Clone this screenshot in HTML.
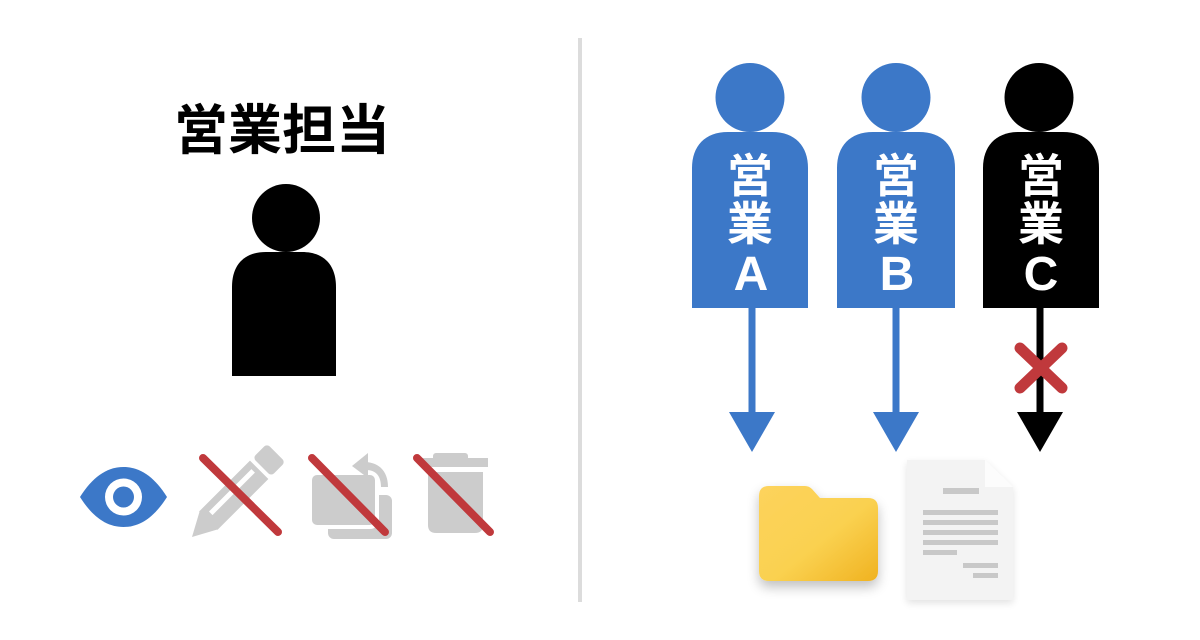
<!DOCTYPE html>
<html>
<head>
<meta charset="utf-8">
<style>
html,body{margin:0;padding:0;background:#fff;}
body{width:1200px;height:640px;overflow:hidden;}
svg{display:block;}
text{font-family:"Liberation Sans","Noto Sans CJK JP",sans-serif;font-weight:bold;}
</style>
</head>
<body>
<svg width="1200" height="640" viewBox="0 0 1200 640" xmlns="http://www.w3.org/2000/svg">
  <defs>
    <linearGradient id="fold" x1="0" y1="0" x2="1" y2="1">
      <stop offset="0" stop-color="#fdd35c"/>
      <stop offset="0.55" stop-color="#fad150"/>
      <stop offset="1" stop-color="#f0b220"/>
    </linearGradient>
    <filter id="sh" x="-30%" y="-30%" width="160%" height="170%">
      <feGaussianBlur in="SourceAlpha" stdDeviation="6"/>
      <feOffset dx="0" dy="6" result="b"/>
      <feComponentTransfer><feFuncA type="linear" slope="0.25"/></feComponentTransfer>
      <feMerge><feMergeNode/><feMergeNode in="SourceGraphic"/></feMerge>
    </filter>
    <filter id="sh2" x="-30%" y="-20%" width="160%" height="140%">
      <feGaussianBlur in="SourceAlpha" stdDeviation="4"/>
      <feOffset dx="0" dy="3" result="b"/>
      <feComponentTransfer><feFuncA type="linear" slope="0.12"/></feComponentTransfer>
      <feMerge><feMergeNode/><feMergeNode in="SourceGraphic"/></feMerge>
    </filter>
  </defs>

  <!-- divider -->
  <rect x="578" y="38" width="4" height="564" fill="#dcdcdc"/>

  <!-- LEFT: title -->
  <text x="282" y="149" font-size="54" text-anchor="middle" fill="#000">営業担当</text>

  <!-- LEFT person -->
  <circle cx="286" cy="218" r="34" fill="#000"/>
  <path d="M232,376 V287 C232,265 244,252 266,252 H302 C324,252 336,265 336,287 V376 Z" fill="#000"/>

  <!-- eye icon -->
  <path d="M80,497 C92,478 106,467 123.5,467 C141,467 155,478 167,497 C155,516 141,527 123.5,527 C106,527 92,516 80,497 Z" fill="#3c78c8"/>
  <circle cx="123.5" cy="497" r="18.5" fill="#fff"/>
  <circle cx="123.5" cy="497" r="10.5" fill="#3c78c8"/>

  <!-- pencil icon -->
  <g transform="translate(192,537) rotate(-45)" fill="#cccccc">
    <polygon points="0,0 24,-13 24,13"/>
    <rect x="23" y="-13" width="72" height="26"/>
    <rect x="99" y="-13" width="20" height="26" rx="4"/>
    <rect x="30" y="-6" width="60" height="5" fill="#fff"/>
  </g>
  <line x1="203" y1="458" x2="278" y2="532" stroke="#c0393c" stroke-width="8" stroke-linecap="round"/>

  <!-- copy icon -->
  <rect x="328" y="495" width="64" height="44" rx="6" fill="#cccccc"/>
  <rect x="310" y="473" width="67" height="54" rx="7" fill="#cccccc" stroke="#fff" stroke-width="4"/>
  <path d="M366,462 C380,463 388,472 388,487 L381,487 C381,476 376,470 366,470 Z" fill="#cccccc"/>
  <polygon points="352,466 368,453 368,478" fill="#cccccc"/>
  <line x1="312" y1="458" x2="385" y2="532" stroke="#c0393c" stroke-width="8" stroke-linecap="round"/>

  <!-- trash icon -->
  <rect x="433" y="453" width="35" height="8" rx="3" fill="#cccccc"/>
  <rect x="422" y="458" width="66" height="9" fill="#cccccc"/>
  <path d="M428,472 H483 V525 Q483,533 475,533 H436 Q428,533 428,525 Z" fill="#cccccc"/>
  <line x1="417" y1="458" x2="490" y2="532" stroke="#c0393c" stroke-width="8" stroke-linecap="round"/>

  <!-- RIGHT persons -->
  <!-- A -->
  <circle cx="750" cy="97.5" r="34.5" fill="#3c78c8"/>
  <path d="M692,308 V168 C692,146 705,132 728,132 H772 C795,132 808,146 808,168 V308 Z" fill="#3c78c8"/>
  <text x="750" y="192" font-size="46" text-anchor="middle" fill="#fff">営</text>
  <text x="750" y="240" font-size="46" text-anchor="middle" fill="#fff">業</text>
  <text x="751" y="290" font-size="48" text-anchor="middle" fill="#fff">A</text>
  <rect x="748.5" y="306" width="7" height="108" fill="#3c78c8"/>
  <polygon points="729,412 775,412 752,452" fill="#3c78c8"/>

  <!-- B -->
  <circle cx="896" cy="97.5" r="34.5" fill="#3c78c8"/>
  <path d="M837,308 V168 C837,146 850,132 873,132 H919 C942,132 955,146 955,168 V308 Z" fill="#3c78c8"/>
  <text x="896" y="192" font-size="46" text-anchor="middle" fill="#fff">営</text>
  <text x="896" y="240" font-size="46" text-anchor="middle" fill="#fff">業</text>
  <text x="897" y="290" font-size="48" text-anchor="middle" fill="#fff">B</text>
  <rect x="892.5" y="306" width="7" height="108" fill="#3c78c8"/>
  <polygon points="873,412 919,412 896,452" fill="#3c78c8"/>

  <!-- C -->
  <circle cx="1039" cy="97.5" r="34.5" fill="#000"/>
  <path d="M983,308 V168 C983,146 996,132 1019,132 H1063 C1086,132 1099,146 1099,168 V308 Z" fill="#000"/>
  <text x="1041" y="192" font-size="46" text-anchor="middle" fill="#fff">営</text>
  <text x="1041" y="240" font-size="46" text-anchor="middle" fill="#fff">業</text>
  <text x="1041" y="290" font-size="48" text-anchor="middle" fill="#fff">C</text>
  <rect x="1036.5" y="306" width="7" height="108" fill="#000"/>
  <polygon points="1017,412 1063,412 1040,452" fill="#000"/>
  <line x1="1020" y1="348" x2="1062" y2="388" stroke="#c0393c" stroke-width="11" stroke-linecap="round"/>
  <line x1="1062" y1="348" x2="1020" y2="388" stroke="#c0393c" stroke-width="11" stroke-linecap="round"/>

  <!-- folder -->
  <g filter="url(#sh)">
    <path d="M769,486 H805 Q809,486 812,489 L820,498 H868 Q878,498 878,508 V571 Q878,581 868,581 H769 Q759,581 759,571 V496 Q759,486 769,486 Z" fill="url(#fold)"/>
  </g>

  <!-- document -->
  <g filter="url(#sh2)">
    <path d="M907,460 H985 L1013,487 V600 H907 Z" fill="#f3f3f3"/>
    <path d="M985,460 L1013,487 H985 Z" fill="#fcfcfc"/>
  </g>
  <g fill="#c8c8c8">
    <rect x="943" y="488" width="36" height="6"/>
    <rect x="923" y="510" width="75" height="5"/>
    <rect x="923" y="520" width="75" height="5"/>
    <rect x="923" y="530" width="75" height="5"/>
    <rect x="923" y="540" width="75" height="5"/>
    <rect x="923" y="550" width="34" height="5"/>
    <rect x="963" y="563" width="35" height="5"/>
    <rect x="973" y="573" width="25" height="5"/>
  </g>
</svg>
</body>
</html>
